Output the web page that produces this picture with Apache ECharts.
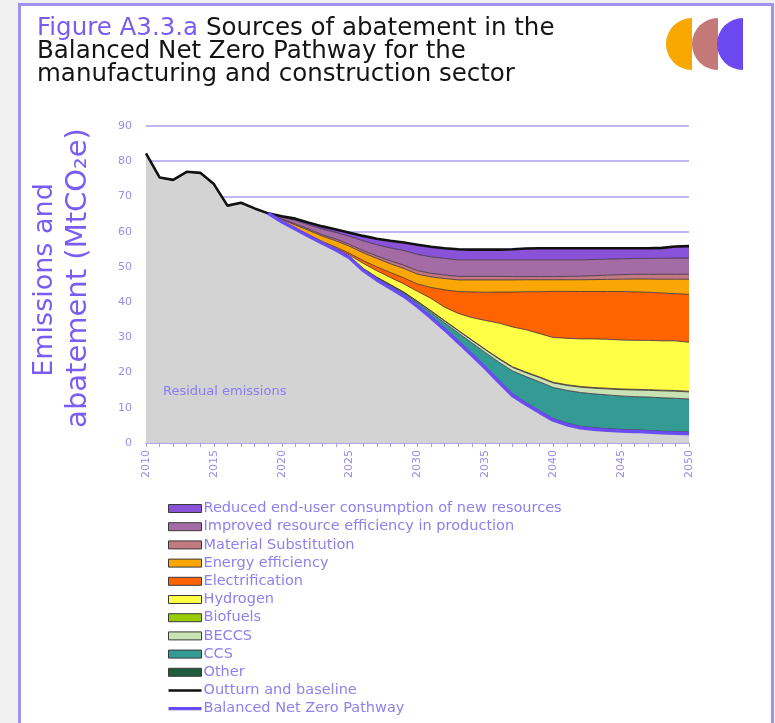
<!DOCTYPE html>
<html><head><meta charset="utf-8">
<script src="https://cdn.jsdelivr.net/npm/echarts@6/dist/echarts.min.js"></script>
<style>html,body{margin:0;padding:0;background:#f0f0f0}#c{width:775px;height:723px}</style>
</head><body><div id="c"></div><script>
const years = ['2010','2011','2012','2013','2014','2015','2016','2017','2018','2019','2020','2021','2022','2023','2024','2025','2026','2027','2028','2029','2030','2031','2032','2033','2034','2035','2036','2037','2038','2039','2040','2041','2042','2043','2044','2045','2046','2047','2048','2049','2050'];
const yTicks = [0,10,20,30,40,50,60,70,80,90];

// Outturn and baseline, 2010-2050
const outturn = [82.2,75.4,74.7,77.0,76.7,73.5,67.4,68.2,66.6,65.2,64.4,63.7,62.5,61.5,60.6,59.7,58.8,58.0,57.4,56.9,56.3,55.7,55.3,55.0,54.9,54.9,54.9,55.0,55.2,55.3,55.3,55.3,55.3,55.3,55.3,55.3,55.3,55.3,55.4,55.8,55.9];
// Balanced Net Zero Pathway, 2019-2050
const bnz = [65.2,62.8,60.8,58.7,56.7,54.8,52.6,49.0,46.3,44.0,41.7,38.8,35.6,32.2,28.6,25.0,21.3,17.3,13.5,11.0,8.7,6.5,5.2,4.3,3.9,3.6,3.4,3.3,3.1,2.9,2.8,2.7];
// Abatement layers, 2019-2050
const other = [0,0,0,0.05,0.1,0.1,0.15,0.2,0.25,0.3,0.3,0.35,0.4,0.4,0.45,0.45,0.45,0.45,0.45,0.45,0.45,0.45,0.45,0.45,0.45,0.45,0.45,0.45,0.45,0.45,0.45,0.45];
const ccs = [0,0,0,0,0,0.05,0.1,0.2,0.3,0.4,0.5,0.7,1.0,1.5,2.2,3.0,3.9,5.2,6.5,7.4,8.2,8.8,9.3,9.6,9.6,9.6,9.5,9.4,9.5,9.5,9.45,9.35];
const beccs = [0,0,0,0,0,0,0.05,0.1,0.15,0.2,0.25,0.3,0.4,0.5,0.6,0.7,0.8,0.9,1.0,1.1,1.2,1.3,1.4,1.5,1.6,1.7,1.8,1.9,1.9,1.95,2.0,2.0];
const biofuels = [0,0,0,0,0,0.05,0.05,0.1,0.1,0.1,0.1,0.1,0.15,0.15,0.15,0.15,0.15,0.2,0.2,0.2,0.2,0.2,0.2,0.2,0.2,0.2,0.2,0.2,0.2,0.2,0.2,0.2];
const hydrogen = [0,0,0,0.1,0.1,0.2,0.4,1.4,1.8,2.0,2.3,2.8,3.5,3.8,4.8,6.3,8.2,10.0,11.3,12.0,12.3,12.7,13.2,13.5,13.8,13.9,13.9,13.9,14.0,14.0,14.1,13.9];
const electrification = [0,0.1,0.2,0.3,0.3,0.4,0.5,0.8,1.1,1.4,1.7,2.1,3.1,4.95,6.2,7.3,8.0,8.8,9.9,10.8,11.9,13.1,13.3,13.45,13.45,13.55,13.75,13.75,13.65,13.6,13.4,13.6];
const energyEff = [0,0.5,0.9,1.2,1.5,1.8,2.0,2.2,2.4,2.5,2.7,2.8,3.0,3.2,3.3,3.4,3.5,3.45,3.45,3.4,3.4,3.3,3.3,3.35,3.4,3.45,3.5,3.65,3.75,3.9,4.1,4.3];
const materialSub = [0,0.2,0.3,0.4,0.4,0.5,0.5,0.6,0.7,0.8,0.9,1.0,1.0,1.0,1.0,1.0,1.0,1.0,0.95,0.9,0.9,0.9,0.95,1.0,1.1,1.2,1.3,1.35,1.35,1.4,1.4,1.4];
const resourceEff = [0,0.5,1.0,1.2,1.6,1.9,2.3,2.8,3.2,3.7,4.2,4.6,4.7,4.7,4.7,4.7,4.7,4.7,4.75,4.75,4.75,4.75,4.7,4.65,4.6,4.55,4.5,4.5,4.5,4.55,4.6,4.6];
const reducedUse = [0,0.3,0.5,0.6,0.8,0.9,1.1,1.4,1.7,2.0,2.2,2.7,2.8,2.9,3.0,2.9,2.9,2.9,3.0,3.2,3.3,3.3,3.3,3.3,3.2,3.1,3.0,2.9,2.9,2.95,3.3,3.4];

const pad = a => Array(years.length - a.length).fill(null).concat(a);
const residual = outturn.slice(0, years.length - bnz.length).concat(bnz);

const FONT = 'DejaVu Sans';
const PURPLE_TXT = '#8e80ef';
const GRIDC = '#a99ff0';

const layers = [
  {name:'Other', data: other, color:'#1f5c3e'},
  {name:'CCS', data: ccs, color:'#339a94'},
  {name:'BECCS', data: beccs, color:'#c8e2b6'},
  {name:'Biofuels', data: biofuels, color:'#99cc00'},
  {name:'Hydrogen', data: hydrogen, color:'#ffff48'},
  {name:'Electrification', data: electrification, color:'#ff6400'},
  {name:'Energy efficiency', data: energyEff, color:'#faa604'},
  {name:'Material Substitution', data: materialSub, color:'#c27a80'},
  {name:'Improved resource efficiency in production', data: resourceEff, color:'#a46ca4'},
  {name:'Reduced end-user consumption of new resources', data: reducedUse, color:'#8a52d8'}
];

const series = [{
  name:'Residual emissions', type:'line', stack:'s', data: residual, symbol:'none',
  color:'#d3d3d3', lineStyle:{width:0}, areaStyle:{color:'#d3d3d3', opacity:1}, z:2, silent:true
}];
layers.forEach(l => series.push({
  name:l.name, type:'line', stack:'s', data: pad(l.data), symbol:'none', color:l.color,
  lineStyle:{color:'#3d2c3a', width:0.8}, areaStyle:{color:l.color, opacity:1}, z:3, silent:true
}));
series.push({name:'Outturn and baseline', type:'line', data: outturn, symbol:'none', color:'#111111',
  lineStyle:{color:'#111111', width:2.6}, z:6, silent:true});
series.push({name:'Balanced Net Zero Pathway', type:'line', data: pad(bnz), symbol:'none', color:'#6a4cf5',
  lineStyle:{color:'#6a4cf5', width:3.5}, z:7, silent:true});

const legendNames = layers.map(l => l.name).reverse();
const legendData = legendNames.map(n => ({name:n, icon:'rect', itemStyle:{borderColor:'#3a3a3a', borderWidth:1}}));
legendData.push({name:'Outturn and baseline', icon:'path://M0,0H40V3H0Z', itemStyle:{borderWidth:0}});
legendData.push({name:'Balanced Net Zero Pathway', icon:'path://M0,0H40V4H0Z', itemStyle:{borderWidth:0}});

const chart = echarts.init(document.getElementById('c'), null, {renderer:'canvas'});
chart.setOption({
  animation:false,
  backgroundColor:'#ffffff',
  title:{
    left:32, top:12,
    text:'{p|Figure A3.3.a} Sources of abatement in the\nBalanced Net Zero Pathway for the\nmanufacturing and construction sector',
    textStyle:{fontFamily:FONT, fontSize:24.5, fontWeight:'normal', color:'#141414', lineHeight:23,
      rich:{p:{fontFamily:FONT, fontSize:24.5, color:'#7a5cf2', lineHeight:23}}}
  },
  legend:{
    orient:'vertical', left:163, top:496, bottom:0, itemWidth:33, itemHeight:8, itemGap:3.2,
    data: legendData, selectedMode:false,
    textStyle:{fontFamily:FONT, fontSize:14.5, color:PURPLE_TXT, lineHeight:15, padding:[0,0,0,-3]}
  },
  grid:{left:146, right:86, top:126, bottom:280, containLabel:false},
  xAxis:{
    type:'category', data:years, boundaryGap:false,
    axisLine:{lineStyle:{color:GRIDC, width:1.5}},
    axisTick:{show:true, interval:0, length:4, lineStyle:{color:GRIDC, width:1}},
    axisLabel:{interval:4, rotate:90, color:'#9a8de8', fontSize:11, fontFamily:FONT, margin:7},
    splitLine:{show:false}
  },
  yAxis:{
    type:'value', min:yTicks[0], max:yTicks[yTicks.length-1], interval:10,
    axisLine:{show:false}, axisTick:{show:false},
    axisLabel:{color:'#9a8de8', fontSize:11, fontFamily:FONT, margin:14},
    splitLine:{lineStyle:{color:GRIDC, width:1.5}}
  },
  graphic:[
    {type:'rect', shape:{x:0, y:0, width:18, height:723}, style:{fill:'#f0f0f0'}, silent:true},
    {type:'rect', shape:{x:0, y:0, width:775, height:3}, style:{fill:'#f0f0f0'}, silent:true},
    {type:'rect', shape:{x:774, y:0, width:1, height:723}, style:{fill:'#f0f0f0'}, silent:true},
    {type:'polyline', shape:{points:[[19.5,723],[19.5,4.5],[772.5,4.5],[772.5,723]]}, style:{stroke:'#a092ee', lineWidth:3, fill:null}, silent:true},
    {type:'sector', shape:{cx:692, cy:44, r:26, r0:0, startAngle:Math.PI/2, endAngle:Math.PI*1.5, clockwise:true}, style:{fill:'#f9a800'}, silent:true},
    {type:'sector', shape:{cx:718, cy:44, r:26, r0:0, startAngle:Math.PI/2, endAngle:Math.PI*1.5, clockwise:true}, style:{fill:'#c47878'}, silent:true},
    {type:'sector', shape:{cx:743, cy:44, r:26, r0:0, startAngle:Math.PI/2, endAngle:Math.PI*1.5, clockwise:true}, style:{fill:'#6b48f0'}, silent:true},
    {type:'text', x:45, y:280, rotation:Math.PI/2, style:{text:'Emissions and', fontFamily:FONT, fontSize:27, fill:'#7b5cf2', align:'center', verticalAlign:'middle'}, silent:true},
    {type:'text', x:78, y:278, rotation:Math.PI/2, style:{text:'abatement (MtCO\u2082e)', fontFamily:FONT, fontSize:29, fill:'#7b5cf2', align:'center', verticalAlign:'middle'}, silent:true},
    {type:'text', x:163, y:392, style:{text:'Residual emissions', fontFamily:FONT, fontSize:13, fill:'#8a7cf0', align:'left', verticalAlign:'middle'}, silent:true, z:10}
  ],
  series: series
});
</script></body></html>
